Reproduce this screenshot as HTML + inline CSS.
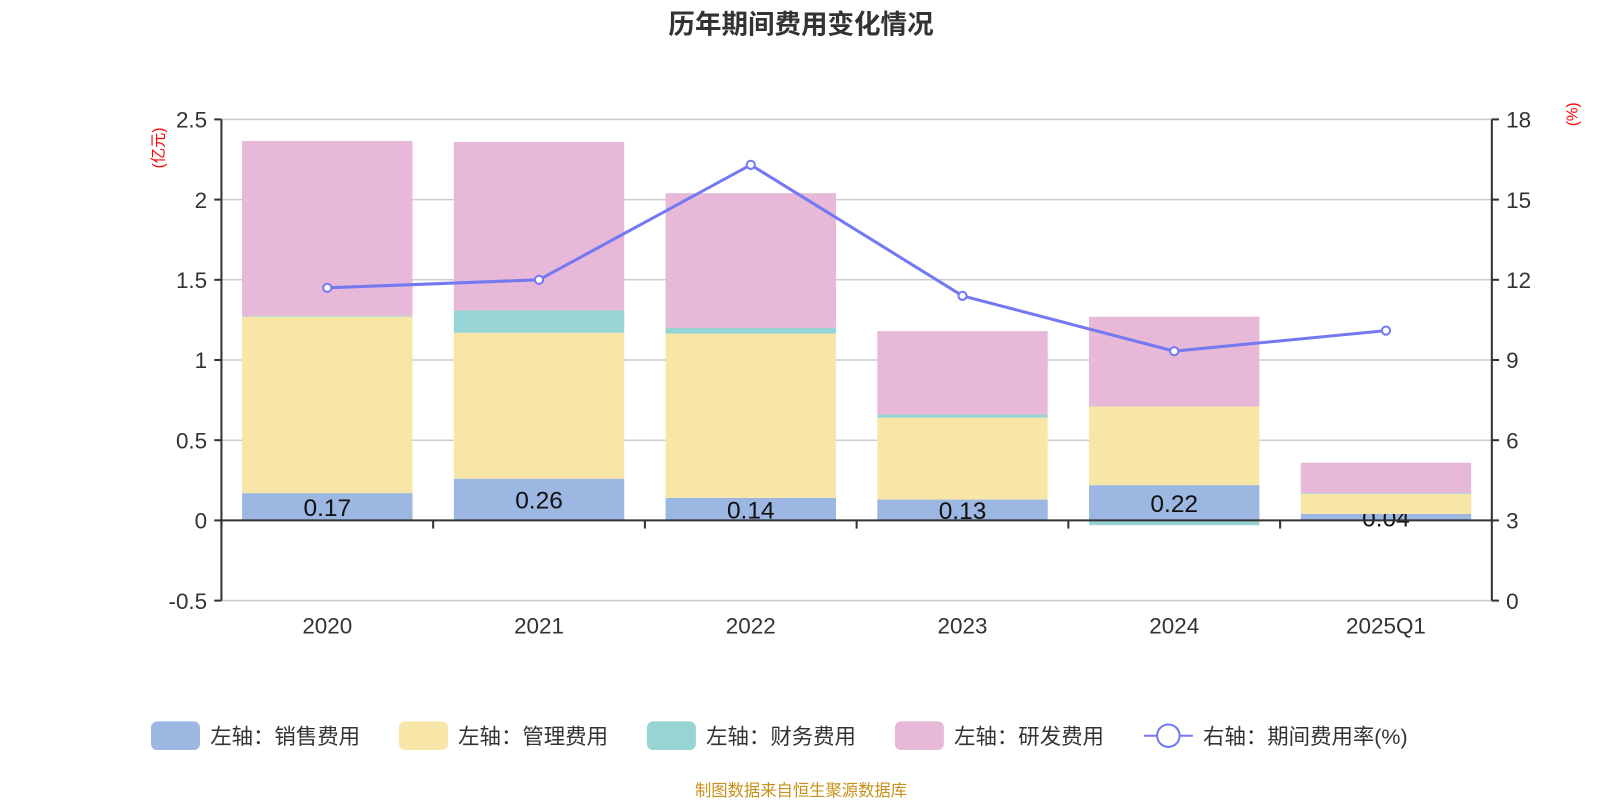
<!DOCTYPE html>
<html><head><meta charset="utf-8"><style>
body{margin:0;background:#fff;font-family:"Liberation Sans","Noto Sans CJK SC",sans-serif;}
svg{display:block}
svg text{font-family:"Liberation Sans","Noto Sans CJK SC",sans-serif;}
</style></head><body>
<svg id="c" width="1600" height="800" viewBox="0 0 1568 784">
<text x="785" y="33" text-anchor="middle" font-size="26" font-weight="bold" fill="#333">历年期间费用变化情况</text>
<text transform="translate(160,145) rotate(-90)" text-anchor="middle" font-size="15" fill="#f00">(亿元)</text>
<text transform="translate(1546,112) rotate(-90)" text-anchor="middle" font-size="15" fill="#f00">(%)</text>
<g id="grid"></g><g id="bars"></g><g id="axes"></g><g id="line"></g>
<g id="legend" font-size="21" fill="#333"></g>
<text x="785" y="780" text-anchor="middle" font-size="16" fill="#c8901a">制图数据来自恒生聚源数据库</text>
</svg>
<script>
const categories=["2020","2021","2022","2023","2024","2025Q1"];
const sales=[0.17,0.26,0.14,0.13,0.22,0.04];
const mgmt=[1.10,0.91,1.025,0.51,0.49,0.125];
const fin=[0.005,0.14,0.035,0.02,-0.03,0.005];
const rd=[1.09,1.05,0.84,0.52,0.56,0.19];
const rate=[11.7,12.0,16.3,11.4,9.33,10.1];
const leftTicks=[-0.5,0,0.5,1,1.5,2,2.5];
const rightTicks=[0,3,6,9,12,15,18];
const NS="http://www.w3.org/2000/svg";
const X0=217,X1=1462,TOP=117,BOT=588.6;
const yL=v=>TOP+(2.5-v)/3*(BOT-TOP);
const yR=v=>BOT-v/18*(BOT-TOP);
const cw=(X1-X0)/categories.length;
const xc=i=>X0+cw*(i+0.5);
function mk(p,tag,a,txt){const e=document.createElementNS(NS,tag);for(const k in a)e.setAttribute(k,a[k]);if(txt!=null)e.textContent=txt;document.getElementById(p).appendChild(e);return e;}
leftTicks.forEach(t=>{
 const e=mk('grid','line',{x1:X0,x2:X1,y1:yL(t),y2:yL(t),stroke:'#ccc','stroke-width':1.5});
 
 const l=mk('axes','text',{x:X0-14,y:yL(t)+8,'text-anchor':'end','font-size':22,fill:'#333'},String(t));
 
 mk('axes','line',{x1:X0-7,x2:X0,y1:yL(t),y2:yL(t),stroke:'#333','stroke-width':2});
});
rightTicks.forEach(t=>{
 const l=mk('axes','text',{x:X1+14,y:yR(t)+8,'font-size':22,fill:'#333'},String(t));
 
 mk('axes','line',{x1:X1,x2:X1+7,y1:yR(t),y2:yR(t),stroke:'#333','stroke-width':2});
});
const bw=167;
function bar(i,b,t,col,name){const y1=yL(b),y2=yL(t);const r=mk('bars','rect',{x:xc(i)-bw/2,y:Math.min(y1,y2),width:bw,height:Math.abs(y1-y2),fill:col});
 }
categories.forEach((c,i)=>{
 bar(i,0,sales[i],'#9cb7e1','bar-sales-'+c);
 const lb=mk('bars','text',{x:xc(i),y:yL(sales[i]/2)+9,'text-anchor':'middle','font-size':24,fill:'#111'},sales[i].toFixed(2));
 
});
categories.forEach((c,i)=>{
 let pos=sales[i];
 bar(i,pos,pos+mgmt[i],'#f8e6a8','bar-mgmt-'+c);pos+=mgmt[i];
 if(fin[i]>=0){bar(i,pos,pos+fin[i],'#98d4d4','bar-finance-'+c);pos+=fin[i];}
 else{bar(i,0,fin[i],'#98d4d4','bar-finance-'+c);}
 bar(i,pos,pos+rd[i],'#e7b8d8','bar-rd-'+c);
});
mk('axes','line',{x1:X0,x2:X0,y1:TOP,y2:BOT,stroke:'#333','stroke-width':2});
mk('axes','line',{x1:X1,x2:X1,y1:TOP,y2:BOT,stroke:'#333','stroke-width':2});
mk('axes','line',{x1:X0,x2:X1,y1:yL(0),y2:yL(0),stroke:'#333','stroke-width':2});
categories.forEach((c,i)=>{
 mk('axes','line',{x1:X0+cw*i,x2:X0+cw*i,y1:yL(0),y2:yL(0)+8,stroke:'#333','stroke-width':2});
 const l=mk('axes','text',{x:xc(i),y:621,'text-anchor':'middle','font-size':22,fill:'#333'},c);
 
});
const pts=rate.map((v,i)=>xc(i)+','+yR(v)).join(' ');
const pl=mk('line','polyline',{points:pts,fill:'none',stroke:'#7479f2','stroke-width':3});

rate.forEach((v,i)=>{const p=mk('line','circle',{cx:xc(i),cy:yR(v),r:4,fill:'#fff',stroke:'#7479f2','stroke-width':2});
 });
const leg=[['左轴：销售费用','#9cb7e1',148],['左轴：管理费用','#f8e6a8',391],['左轴：财务费用','#98d4d4',634],['左轴：研发费用','#e7b8d8',877]];
leg.forEach(([t,c,x])=>{const g=mk('legend','g',{});
 const r=document.createElementNS(NS,'rect');r.setAttribute('x',x);r.setAttribute('y',707);r.setAttribute('width',48);r.setAttribute('height',28);r.setAttribute('rx',6);r.setAttribute('fill',c);g.appendChild(r);
 const tx=document.createElementNS(NS,'text');tx.setAttribute('x',x+58);tx.setAttribute('y',729);tx.textContent=t;g.appendChild(tx);});
const g=mk('legend','g',{});
g.innerHTML='<line x1="1121" x2="1169" y1="721" y2="721" stroke="#7479f2" stroke-width="2"/><circle cx="1145" cy="721" r="11" fill="#fff" stroke="#7479f2" stroke-width="2"/><text x="1179" y="729">右轴：期间费用率(%)</text>';
</script>
</body></html>
